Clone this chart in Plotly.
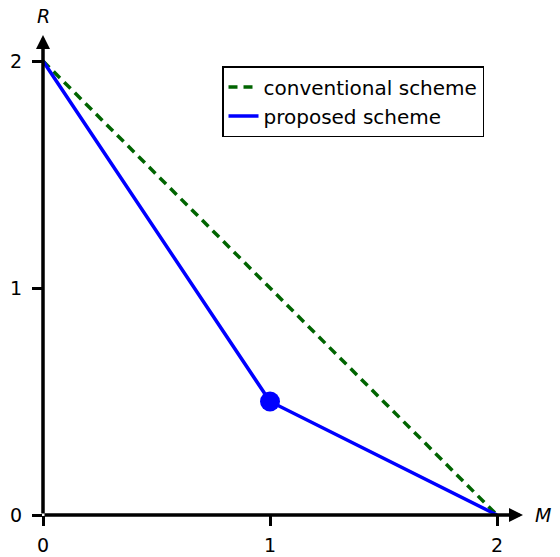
import plotly.graph_objects as go

conv_M = [0, 2]
conv_R = [2, 0]
prop_M = [0, 1, 2]
prop_R = [2, 0.5, 0]
corner_M = [1]
corner_R = [0.5]
ticks = [0, 1, 2]
tick_labels = ["0", "1", "2"]

XMAX = 480 / 227
YMAX = 480 / 227
FONT = "DejaVu Sans"

fig = go.Figure()
fig.add_trace(go.Scatter(x=conv_M, y=conv_R, mode="lines", name="conventional scheme",
                         line=dict(color="#006400", width=3.5, dash="9px,6px")))
fig.add_trace(go.Scatter(x=prop_M, y=prop_R, mode="lines", name="proposed scheme",
                         line=dict(color="#0000ff", width=3.5)))
fig.add_trace(go.Scatter(x=corner_M, y=corner_R, mode="markers", showlegend=False,
                         marker=dict(color="#0000ff", size=20)))

# axis arrows
fig.add_annotation(x=XMAX, y=0, ax=0, ay=0, xref="x", yref="y", axref="x", ayref="y",
                   showarrow=True, arrowhead=2, arrowsize=0.8, arrowwidth=3.5, arrowcolor="black", text="")
fig.add_annotation(x=0, y=YMAX, ax=0, ay=0, xref="x", yref="y", axref="x", ayref="y",
                   showarrow=True, arrowhead=2, arrowsize=0.8, arrowwidth=3.5, arrowcolor="black", text="")
fig.add_annotation(x=XMAX, y=0, xref="x", yref="y", text="<i>M</i>", showarrow=False,
                   xanchor="left", xshift=10, font=dict(size=19, family=FONT, color="black"))
fig.add_annotation(x=0, y=YMAX, xref="x", yref="y", text="<i>R</i>", showarrow=False,
                   yanchor="bottom", yshift=6, font=dict(size=19, family=FONT, color="black"))

fig.update_layout(
    width=560, height=557,
    margin=dict(l=43, r=37, t=35, b=42),
    plot_bgcolor="white", paper_bgcolor="white",
    font=dict(family=FONT, size=19, color="black"),
    legend=dict(x=(222 - 43) / 480, y=(515 - 66) / 480, xanchor="left", yanchor="top",
                bordercolor="black", borderwidth=1.5, bgcolor="white", itemwidth=30,
                font=dict(size=20, family=FONT), tracegroupgap=0),
    xaxis=dict(range=[0, XMAX], showgrid=False, zeroline=False, showline=False,
               tickvals=ticks, ticktext=tick_labels, ticks="outside", ticklen=10,
               tickwidth=3, tickcolor="black", ticklabelstandoff=3, automargin=False),
    yaxis=dict(range=[0, YMAX], showgrid=False, zeroline=False, showline=False,
               tickvals=ticks, ticktext=tick_labels, ticks="outside", ticklen=10,
               tickwidth=3, tickcolor="black", ticklabelstandoff=6, automargin=False),
)
fig.write_html("out.html", config={"displayModeBar": False},
               post_script="document.body.style.margin='0';document.body.style.overflow='hidden';")
